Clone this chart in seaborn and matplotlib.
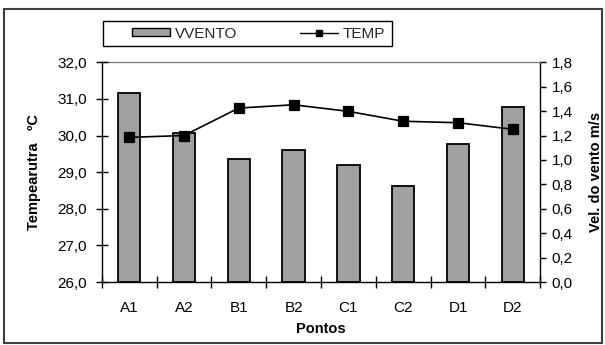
import matplotlib
matplotlib.use("Agg")
import matplotlib.pyplot as plt
import seaborn as sns
import numpy as np
from matplotlib.ticker import FuncFormatter, FixedLocator
from matplotlib.patches import Rectangle, Patch
from matplotlib.lines import Line2D

pontos = ["A1", "A2", "B1", "B2", "C1", "C2", "D1", "D2"]
vvento = [1.55, 1.22, 1.01, 1.08, 0.96, 0.79, 1.13, 1.43]
temp = [29.95, 30.00, 30.75, 30.84, 30.66, 30.39, 30.35, 30.17]

sns.set_theme(style="white")
plt.rcParams['font.family'] = ['Liberation Sans', 'DejaVu Sans']
plt.rcParams['font.size'] = 10

W, H = 605, 345
fig = plt.figure(figsize=(W / 100, H / 100), dpi=100)
fig.patch.set_facecolor("white")

def fx(px):
    return px / W

def fy(py):
    return 1 - py / H

ax = fig.add_axes([fx(101.7), fy(282), fx(540.3) - fx(101.7), fy(62.3) - fy(282)])
ax.set_facecolor("white")
ax2 = ax.twinx()

fmt = FuncFormatter(lambda v, p: f"{v:.1f}".replace(".", ","))

# bars on right axis
sns.barplot(x=pontos, y=vvento, ax=ax, color="#A0A0A0", edgecolor="black",
            linewidth=1.3, width=0.41, saturation=1)
# line on left axis
sns.pointplot(x=pontos, y=temp, ax=ax2, color="black", markers="s",
              linestyles="-", markersize=6.5, linewidth=1.2, errorbar=None)

ax.set_ylim(0, 1.8)
ax.set_xlim(-0.5, 7.5)
ax2.set_xlim(-0.5, 7.5)
ax2.set_ylim(26, 32)

ax.yaxis.tick_right()
ax.yaxis.set_label_position("right")
ax.set_yticks(np.arange(0, 1.81, 0.2))
ax.yaxis.set_major_formatter(fmt)
ax.tick_params(axis="y", which="major", direction="out", length=4, width=1,
               color="black", pad=4, labelsize=11, labelcolor="black",
               left=False, right=True, labelleft=False, labelright=True)
ax.set_ylabel("Vel. do vento m/s", fontweight="bold", fontsize=10.5, labelpad=12,
              rotation=90, color="black")

ax.set_xticks(range(len(pontos)))
ax.set_xticklabels(pontos)
ax.xaxis.set_minor_locator(FixedLocator(np.arange(-0.5, 7.6, 1.0)))
ax.tick_params(axis="x", which="major", length=0, pad=14, labelsize=11, labelcolor="black")
ax.tick_params(axis="x", which="minor", direction="inout", length=9, width=1, color="black",
               bottom=True)
ax.set_xlabel("Pontos", fontweight="bold", fontsize=10.5, labelpad=5, color="black")

ax2.yaxis.tick_left()
ax2.yaxis.set_label_position("left")
ax2.set_yticks(np.arange(26, 32.1, 1))
ax2.yaxis.set_major_formatter(fmt)
ax2.tick_params(axis="y", direction="inout", length=9, width=1, color="black",
                pad=6, labelsize=11, labelcolor="black", left=True, right=False,
                labelleft=True, labelright=False)
ax2.set_ylabel("Tempearutra   ºC", fontweight="bold", fontsize=10.5, labelpad=12,
               color="black")
ax2.set_xlabel("")

for a in (ax, ax2):
    for s in a.spines.values():
        s.set_visible(False)
for side in ("bottom", "right", "left"):
    ax.spines[side].set_visible(True)
    ax.spines[side].set_color("black")
    ax.spines[side].set_linewidth(1)
ax.spines["top"].set_visible(True)
ax.spines["top"].set_color("#808080")
ax.spines["top"].set_linewidth(1)

# legend (frameless) with a separate frame box
handles = [Patch(facecolor="#A0A0A0", edgecolor="black", linewidth=1),
           Line2D([0], [0], color="black", marker="s", markersize=5, linewidth=1)]
leg = fig.legend(handles, ["VVENTO", "TEMP"], loc="center left",
                 bbox_to_anchor=(fx(132), fy(33.5)), ncol=2, frameon=False,
                 fontsize=11, handlelength=2.5, handleheight=0.5, columnspacing=4.1,
                 borderpad=0, handletextpad=0.3, borderaxespad=0)
fig.patches.append(Rectangle((fx(103), fy(46)), fx(392) - fx(103), fy(21) - fy(46),
                             transform=fig.transFigure, fill=False,
                             edgecolor="black", linewidth=1))

# outer frame
fig.patches.append(Rectangle((fx(4), fy(343)), fx(602) - fx(4), fy(9) - fy(343),
                             transform=fig.transFigure, fill=False,
                             edgecolor="#404040", linewidth=1.5))

fig.savefig("out.png", dpi=100, facecolor="white")
